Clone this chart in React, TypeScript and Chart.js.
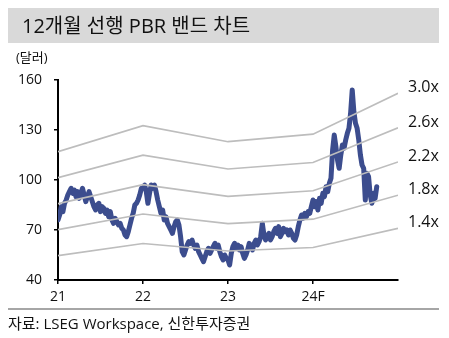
import React, { useEffect, useRef } from "react";
import { Chart, registerables } from "chart.js";

Chart.register(...registerables);

// ---- data ----
const titleText = "12개월 선행 PBR 밴드 차트";
const unitText = "(달러)";
const sourceText = "자료: LSEG Workspace, 신한투자증권";

const xTickYears = [2021, 2022, 2023, 2024];
const xTickLabels = ["21", "22", "23", "24F"];
const yMin = 40;
const yMax = 160;
const yStep = 30;

// PBR band knots (start of each year, and end of 2024)
const bandKnotYears = [2021, 2022, 2023, 2024, 2025];
const band30 = [117.0, 132.6, 123.0, 127.5, 152.0];
const band26 = [101.4, 114.9, 106.6, 110.5, 131.3];
const band22 = [85.8, 97.2, 90.2, 93.5, 110.8];
const band18 = [70.2, 79.6, 73.8, 76.5, 90.9];
const band14 = [54.6, 61.9, 57.4, 59.5, 71.0];
const bandLabels = ["3.0x", "2.6x", "2.2x", "1.8x", "1.4x"];

// weekly share price (USD)
const price2021 = [
  76, 79, 84, 81, 86, 88, 91, 93, 95, 92, 94, 90, 93, 89, 92, 95, 91, 87, 90, 93,
  90, 87, 84, 82, 85, 86, 81, 84, 83, 80, 82, 78, 81, 76, 74, 77, 75, 73, 74, 71,
  70, 67, 66, 69, 73, 77, 80, 85, 86, 88, 91, 95,
];
const price2022 = [
  95, 97, 93, 86, 92, 97, 95, 97, 93, 88, 84, 80, 82, 76, 78, 74, 72, 70, 68, 72,
  75, 76, 73, 66, 57, 55, 58, 61, 63, 62, 64, 61, 59, 61, 57, 55, 53, 51, 54, 57,
  59, 56, 58, 60, 62, 59, 61, 57, 54, 52, 55, 53,
];
const price2023 = [
  52, 49, 56, 60, 62, 59, 61, 58, 60, 56, 53, 55, 58, 62, 60, 58, 62, 64, 61, 63,
  66, 74, 67, 64, 66, 68, 64, 66, 69, 71, 68, 72, 66, 68, 71, 69, 70, 67, 70, 68,
  65, 64, 67, 72, 76, 79, 77, 80, 78, 81, 80, 84,
];
const price2024 = [
  88, 84, 87, 82, 89, 86, 92, 90, 96, 93, 98, 101, 118, 127, 120, 112, 107, 115, 121, 119,
  124, 128, 131, 140, 154, 141, 134, 131, 124, 115, 109, 107, 88, 104, 102, 91, 86, 92, 89, 96,
];
const priceYears = [2021, 2022, 2023, 2024];
const priceByYear = [price2021, price2022, price2023, price2024];
const weeksPerYear = 52;

// ---- styles ----
const numFont = '"Open Sans", "Noto Sans CJK KR", sans-serif';
const priceColor = "#3c4d8e";
const bandColor = "#bdbdbd";

export default function App() {
  const canvasRef = useRef<HTMLCanvasElement | null>(null);

  useEffect(() => {
    document.body.style.margin = "0";
    const canvas = canvasRef.current;
    if (!canvas) return;

    const pricePoints: { x: number; y: number }[] = [];
    priceByYear.forEach((arr, yi) => {
      arr.forEach((v, w) => {
        pricePoints.push({ x: priceYears[yi] + w / weeksPerYear, y: v });
      });
    });

    const bands = [band30, band26, band22, band18, band14];
    const bandDatasets = bands.map((b, i) => ({
      label: bandLabels[i],
      data: b.map((v, k) => ({ x: bandKnotYears[k], y: v })),
      borderColor: bandColor,
      borderWidth: 1.6,
      pointRadius: 0,
      tension: 0,
      order: 0,
    }));

    const bandLabelPlugin = {
      id: "bandLabels",
      afterDatasetsDraw(chart: any) {
        const { ctx, chartArea, scales } = chart;
        ctx.save();
        ctx.font = `16px ${numFont}`;
        ctx.fillStyle = "#111";
        ctx.textAlign = "left";
        ctx.textBaseline = "middle";
        bands.forEach((b, i) => {
          const y = scales.y.getPixelForValue(b[b.length - 1]);
          ctx.fillText(bandLabels[i], chartArea.right + 10, y - 5.5);
        });
        ctx.restore();
      },
    };

    const chart = new Chart(canvas, {
      type: "line",
      data: {
        datasets: [
          {
            label: "price",
            data: pricePoints,
            borderColor: priceColor,
            borderWidth: 5,
            pointRadius: 0,
            tension: 0,
            borderJoinStyle: "round",
            borderCapStyle: "round",
            order: 1,
          } as any,
          ...bandDatasets,
        ],
      },
      options: {
        animation: false,
        responsive: false,
        events: [],
        layout: { padding: { left: 0, top: 80, right: 51, bottom: 0 } },
        plugins: {
          legend: { display: false },
          tooltip: { enabled: false },
        },
        scales: {
          x: {
            type: "linear",
            min: bandKnotYears[0],
            max: bandKnotYears[bandKnotYears.length - 1],
            afterBuildTicks: (scale: any) => {
              scale.ticks = xTickYears.map((v) => ({ value: v }));
            },
            afterFit: (scale: any) => {
              scale.height = 58;
            },
            ticks: {
              autoSkip: false,
              maxRotation: 0,
              padding: 5,
              color: "#111",
              font: { family: numFont, size: 14 },
              callback: (v: any) => {
                const i = xTickYears.indexOf(Number(v));
                return i >= 0 ? xTickLabels[i] : "";
              },
            },
            grid: {
              drawOnChartArea: false,
              drawTicks: true,
              tickLength: 4,
              color: "#000",
              lineWidth: 1.5,
            },
            border: { color: "#000", width: 2 },
          },
          y: {
            type: "linear",
            min: yMin,
            max: yMax,
            afterFit: (scale: any) => {
              scale.width = 58;
            },
            ticks: {
              stepSize: yStep,
              padding: 12,
              color: "#111",
              font: { family: numFont, size: 14 },
            },
            grid: {
              drawOnChartArea: false,
              drawTicks: true,
              tickLength: 4,
              color: "#000",
              lineWidth: 1.5,
            },
            border: { color: "#000", width: 2 },
          },
        },
      } as any,
      plugins: [bandLabelPlugin],
    });

    return () => chart.destroy();
  }, []);

  return (
    <div
      style={{
        position: "absolute",
        left: 0,
        top: 0,
        width: 449,
        height: 338,
        background: "#fff",
        overflow: "hidden",
        fontFamily: '"Open Sans", "Noto Sans CJK KR", sans-serif',
        color: "#111",
      }}
    >
      <canvas
        ref={canvasRef}
        width={449}
        height={338}
        style={{ position: "absolute", left: 0, top: 0, width: 449, height: 338 }}
      />
      <div
        style={{
          position: "absolute",
          left: 8,
          top: 8,
          width: 431,
          height: 35,
          background: "#d9d9d9",
        }}
      />
      <div
        style={{
          position: "absolute",
          left: 22,
          top: 8,
          height: 35,
          lineHeight: "35px",
          fontSize: 20,
          whiteSpace: "nowrap",
        }}
      >
        {titleText}
      </div>
      <div
        style={{
          position: "absolute",
          left: 16,
          top: 48,
          lineHeight: "18px",
          fontSize: 13,
          whiteSpace: "nowrap",
        }}
      >
        {unitText}
      </div>
      <div
        style={{
          position: "absolute",
          left: 8,
          top: 308,
          width: 431,
          height: 2,
          background: "#a6a6a6",
        }}
      />
      <div
        style={{
          position: "absolute",
          left: 8,
          top: 313,
          lineHeight: "20px",
          fontSize: 15,
          whiteSpace: "nowrap",
        }}
      >
        {sourceText}
      </div>
    </div>
  );
}
